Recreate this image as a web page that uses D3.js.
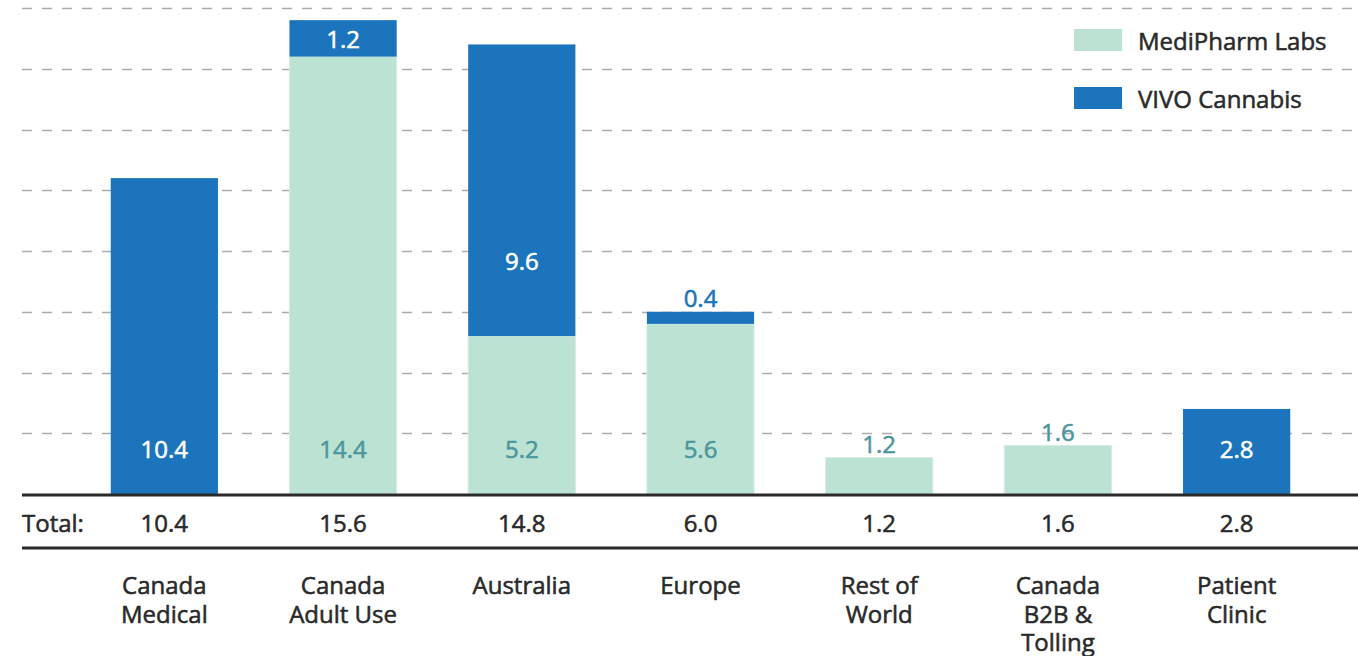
<!DOCTYPE html>
<html>
<head>
<meta charset="utf-8">
<script src="https://cdnjs.cloudflare.com/ajax/libs/d3/7.8.5/d3.min.js"></script>
<style>
  body { margin: 0; background: #fff; }
  text { font-family: "Open Sans", "Noto Sans", sans-serif; font-weight: 400; stroke-width: 0.55px; }
</style>
</head>
<body>
<svg id="chart"></svg>
<script>
// data
const categories = [
  ["Canada", "Medical"],
  ["Canada", "Adult Use"],
  ["Australia"],
  ["Europe"],
  ["Rest of", "World"],
  ["Canada", "B2B &", "Tolling"],
  ["Patient", "Clinic"]
];
const mediPharm = [0, 14.4, 5.2, 5.6, 1.2, 1.6, 0];
const vivo = [10.4, 1.2, 9.6, 0.4, 0, 0, 2.8];
const totals = ["10.4", "15.6", "14.8", "6.0", "1.2", "1.6", "2.8"];
const gridTicks = [2, 4, 6, 8, 10, 12, 14, 16];
const seriesNames = ["MediPharm Labs", "VIVO Cannabis"];

const width = 1358;
const height = 656;
const light = "#bce2d4";
const blue = "#1c75bc";
const teal = "#4d969c";
const dark = "#2a2a2a";
const fs = 24;

const svg = d3.select('#chart')
    .attr('width', width)
    .attr('height', height);

const x = d3.scaleBand()
    .domain(d3.range(categories.length))
    .range([75, 1326])
    .paddingInner(0.4)
    .paddingOuter(0.2);

const y = d3.scaleLinear()
    .domain([0, 16])
    .range([494, 8]);

// dashed grid
svg.append('g')
    .selectAll('line')
    .data(gridTicks)
    .join('line')
    .attr('x1', 22)
    .attr('x2', width)
    .attr('y1', d => Math.round(y(d)) + 0.5)
    .attr('y2', d => Math.round(y(d)) + 0.5)
    .attr('stroke', '#adadad')
    .attr('stroke-width', 1.5)
    .attr('stroke-dasharray', '10,10');

const rows = categories.map((c, i) => ({ i, base: mediPharm[i], top: vivo[i] }));

// bars
const bars = svg.append('g');
bars.selectAll('rect.base')
    .data(rows.filter(d => d.base > 0))
    .join('rect')
    .attr('x', d => x(d.i))
    .attr('width', x.bandwidth())
    .attr('y', d => y(d.base))
    .attr('height', d => y(0) - y(d.base))
    .attr('fill', light)
    .attr('stroke', '#d6ede4')
    .attr('stroke-width', 1);

bars.selectAll('rect.top')
    .data(rows.filter(d => d.top > 0))
    .join('rect')
    .attr('x', d => x(d.i))
    .attr('width', x.bandwidth())
    .attr('y', d => y(d.base + d.top))
    .attr('height', d => y(d.base) - y(d.base + d.top))
    .attr('fill', blue);

// value labels
const labels = svg.append('g')
    .attr('text-anchor', 'middle')
    .attr('font-size', 24)
    .attr('dominant-baseline', 'central');

function label(cx, cy, color, txt) {
  labels.append('text')
      .attr('x', cx).attr('y', cy)
      .attr('fill', color).attr('stroke', color)
      .text(txt);
}

rows.forEach(d => {
  const cx = x(d.i) + x.bandwidth() / 2;
  const total = d.base + d.top;
  if (total < 2) {
    // small bar: label sits above
    label(cx, y(total) - 14, d.top > 0 ? blue : teal, (d.top > 0 ? d.top : d.base).toFixed(1));
    return;
  }
  if (d.base > 0) label(cx, y(1.5), teal, d.base.toFixed(1));
  if (d.top > 0) {
    if (d.base === 0) {
      label(cx, y(1.5), '#fff', d.top.toFixed(1));
    } else if (d.top < 1) {
      label(cx, y(total) - 14, blue, d.top.toFixed(1));
    } else {
      label(cx, y(d.base + Math.min(d.top / 2, 2.5)), '#fff', d.top.toFixed(1));
    }
  }
});

// baseline and total row
svg.append('line')
    .attr('x1', 22).attr('x2', width)
    .attr('y1', 495).attr('y2', 495)
    .attr('stroke', dark).attr('stroke-width', 3);

svg.append('line')
    .attr('x1', 22).attr('x2', width)
    .attr('y1', 548).attr('y2', 548)
    .attr('stroke', dark).attr('stroke-width', 3);

svg.append('text')
    .attr('x', 22).attr('y', 522)
    .attr('dominant-baseline', 'central')
    .attr('font-size', fs)
    .attr('fill', dark).attr('stroke', dark)
    .text('Total:');

svg.append('g')
    .selectAll('text')
    .data(totals)
    .join('text')
    .attr('x', (d, i) => x(i) + x.bandwidth() / 2)
    .attr('y', 522)
    .attr('text-anchor', 'middle')
    .attr('dominant-baseline', 'central')
    .attr('font-size', fs)
    .attr('fill', dark).attr('stroke', dark)
    .text(d => d);

// category labels
const cat = svg.append('g')
    .selectAll('text')
    .data(categories)
    .join('text')
    .attr('x', (d, i) => x(i) + x.bandwidth() / 2)
    .attr('y', 585)
    .attr('text-anchor', 'middle')
    .attr('dominant-baseline', 'central')
    .attr('font-size', fs)
    .attr('fill', dark).attr('stroke', dark);

cat.each(function (d, i) {
  const t = d3.select(this);
  d.forEach((line, k) => {
    t.append('tspan')
        .attr('x', x(i) + x.bandwidth() / 2)
        .attr('y', 584 + k * 28.5)
        .text(line);
  });
});

// legend
const legend = svg.append('g').attr('transform', 'translate(1074,29)');
legend.selectAll('rect')
    .data(seriesNames)
    .join('rect')
    .attr('x', 0)
    .attr('y', (d, i) => i * 58)
    .attr('width', 48)
    .attr('height', 22)
    .attr('fill', (d, i) => i === 0 ? light : blue);

legend.selectAll('text')
    .data(seriesNames)
    .join('text')
    .attr('x', 64)
    .attr('y', (d, i) => i * 58 + 11)
    .attr('dominant-baseline', 'central')
    .attr('font-size', fs)
    .attr('fill', dark).attr('stroke', dark)
    .text(d => d);
</script>
</body>
</html>
